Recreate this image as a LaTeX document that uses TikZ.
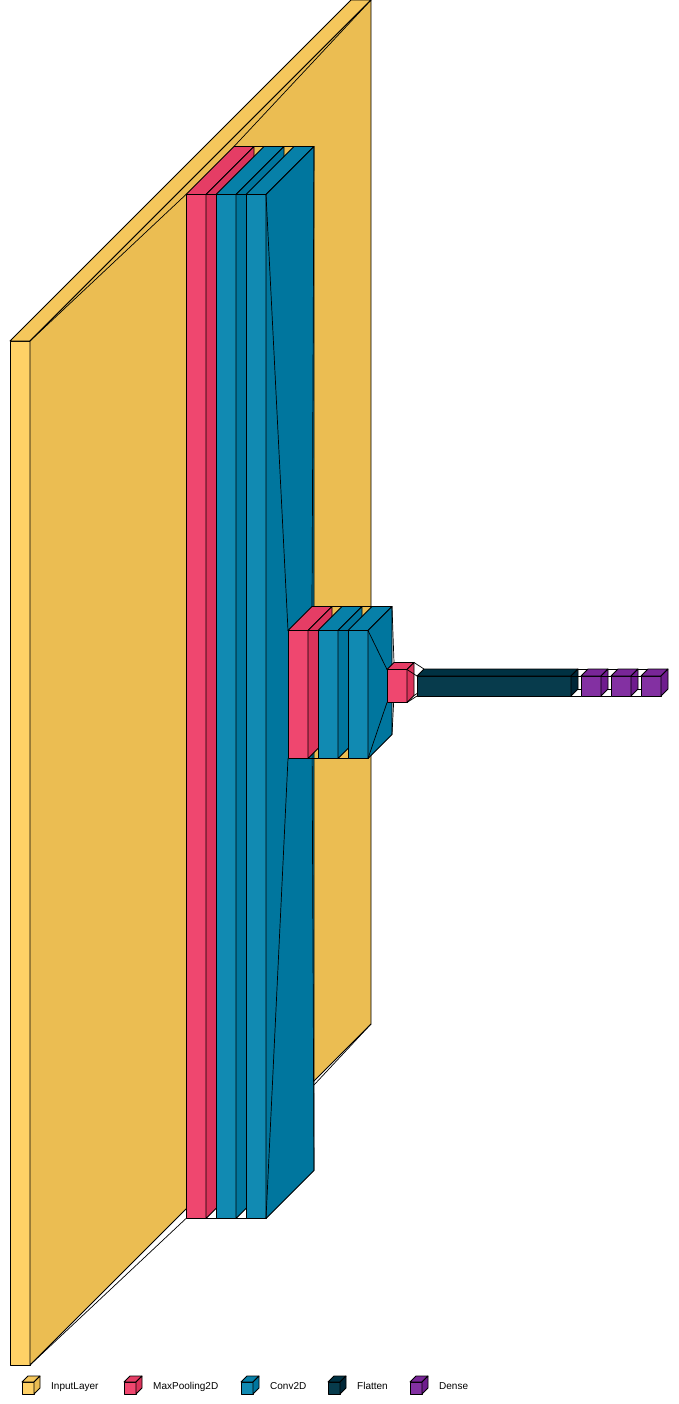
\documentclass[tikz,border=0pt]{standalone}
\usepackage{fontspec}
\setmainfont{Liberation Sans}
\usepackage{xcolor}
\usepackage{tikz}
\usetikzlibrary{positioning}

% front / top / side shades of each layer kind
\definecolor{inputF}{HTML}{FFD166}\definecolor{inputT}{HTML}{F5C75C}\definecolor{inputS}{HTML}{EBBD52}
\definecolor{poolF}{HTML}{EF476F}\definecolor{poolT}{HTML}{E53D65}\definecolor{poolS}{HTML}{DB335B}
\definecolor{convF}{HTML}{118AB2}\definecolor{convT}{HTML}{0780A8}\definecolor{convS}{HTML}{00769E}
\definecolor{flatF}{HTML}{073B4C}\definecolor{flatT}{HTML}{003142}\definecolor{flatS}{HTML}{002738}
\definecolor{denseF}{HTML}{8330A2}\definecolor{denseT}{HTML}{792698}\definecolor{denseS}{HTML}{6F1C8E}

\begin{document}
\begin{tikzpicture}[x=1pt,y=-1pt,
    face/.style={draw=black,line width=0.8pt,line join=round},
    funnel/.style={draw=black,line width=0.7pt},
    legtext/.style={anchor=base west,inner sep=0pt,font=\fontsize{10}{12}\selectfont}]
  \useasboundingbox (0,0) rectangle (678,1404);
  % layers: name/x/width/height/depth/kind
  \foreach \lname/\lx/\lw/\lh/\ld/\lc [count=\i, remember=\lname as \lprev (initially in)] in {
      in/10/20/1024/341/input,
      p1/186/20/1024/48/pool, c1/216/20/1024/48/conv, c2/246/20/1024/48/conv,
      p2/288/20/128/24/pool, c3/318/20/128/24/conv, c4/348/20/128/24/conv,
      p3/387/20/33/7/pool, fl/417/154/20/7/flat,
      d1/581/20/20/7/dense, d2/611/20/20/7/dense, d3/641/20/20/7/dense}{
    \pgfmathsetmacro\ly{682.5+(\ld-\lh)/2}
    \coordinate (\lname-a) at (\lx,\ly);
    \coordinate (\lname-b) at (\lx+\lw,\ly);
    \coordinate (\lname-c) at (\lx+\lw,\ly+\lh);
    \coordinate (\lname-d) at (\lx,\ly+\lh);
    \coordinate (\lname-ta) at (\lx+\ld,\ly-\ld);
    \coordinate (\lname-tb) at (\lx+\lw+\ld,\ly-\ld);
    \coordinate (\lname-tc) at (\lx+\lw+\ld,\ly+\lh-\ld);
    \coordinate (\lname-td) at (\lx+\ld,\ly+\lh-\ld);
    \ifnum\i>1
      \draw[funnel] (\lprev-tb) -- (\lname-ta);
      \draw[funnel] (\lprev-tc) -- (\lname-td);
      \draw[funnel] (\lprev-c) -- (\lname-d);
      \draw[funnel] (\lprev-b) -- (\lname-a);
    \fi
    \filldraw[face,fill=\lc F] (\lname-a) rectangle (\lname-c);
    \filldraw[face,fill=\lc T] (\lname-a) -- (\lname-ta) -- (\lname-tb) -- (\lname-b) -- cycle;
    \filldraw[face,fill=\lc S] (\lname-b) -- (\lname-tb) -- (\lname-tc) -- (\lname-c) -- cycle;
  }
  % legend
  \foreach \ix/\lab/\lc in {22/InputLayer/input, 124/MaxPooling2D/pool, 241/Conv2D/conv,
      328/Flatten/flat, 410/Dense/dense}{
    \filldraw[face,fill=\lc F] (\ix,1382) rectangle (\ix+12,1394);
    \filldraw[face,fill=\lc T] (\ix,1382) -- (\ix+6,1376) -- (\ix+18,1376) -- (\ix+12,1382) -- cycle;
    \filldraw[face,fill=\lc S] (\ix+12,1382) -- (\ix+18,1376) -- (\ix+18,1388) -- (\ix+12,1394) -- cycle;
    \node[legtext] (leg\lab) at (\ix+29,1389) {\lab};
  }
\end{tikzpicture}
\end{document}
